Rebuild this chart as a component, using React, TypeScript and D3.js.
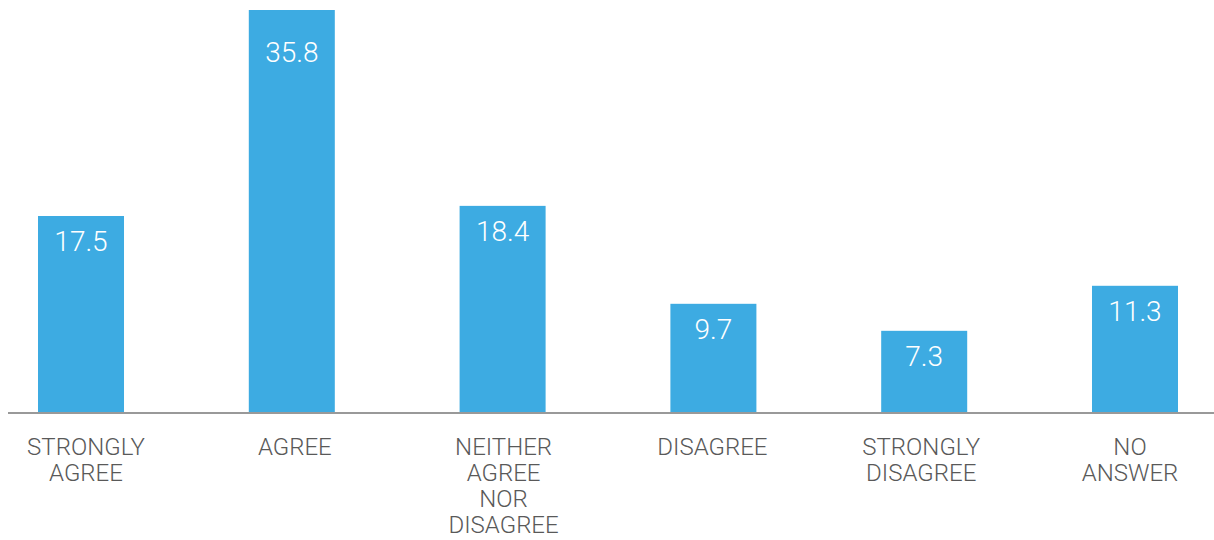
import React from "react";
import * as d3 from "d3";

const categories = ["STRONGLY AGREE", "AGREE", "NEITHER AGREE NOR DISAGREE", "DISAGREE", "STRONGLY DISAGREE", "NO ANSWER"];
const categoryLines = [["STRONGLY", "AGREE"], ["AGREE"], ["NEITHER", "AGREE", "NOR", "DISAGREE"], ["DISAGREE"], ["STRONGLY", "DISAGREE"], ["NO", "ANSWER"]];
const values = [17.5, 35.8, 18.4, 9.7, 7.3, 11.3];

const W = 1214;
const H = 540;
const baseY = 413;
const topY = 10;

export default function App() {
  const x = d3.scaleBand<string>().domain(categories).range([38, 1178]).paddingInner(0.592).paddingOuter(0);
  const xl = d3.scalePoint<string>().domain(categories).range([86, 1130]);
  const y = d3.scaleLinear().domain([0, d3.max(values) as number]).range([baseY, topY]);
  const labelMinY = 62;
  return (
    <svg width={W} height={H} style={{ position: "absolute", left: 0, top: 0 }}>
      <rect width={W} height={H} fill="#ffffff" />
      {categories.map((c, i) => (
        <g key={c}>
          <rect x={x(c)} y={y(values[i])} width={x.bandwidth()} height={baseY - y(values[i])} fill="#3DABE2" />
          <text
            x={(x(c) as number) + x.bandwidth() / 2}
            y={Math.max(y(values[i]) + 35, i === 1 ? labelMinY : 0)}
            textAnchor="middle"
            fill="#ffffff"
            fontFamily="Roboto"
            fontWeight={300}
            fontSize={28}
          >
            {values[i].toFixed(1)}
          </text>
          <text
            x={xl(c) as number}
            y={455}
            textAnchor="middle"
            fill="#595959"
            fontFamily="Roboto"
            fontWeight={300}
            fontSize={24}
          >
            {categoryLines[i].map((l, j) => (
              <tspan key={j} x={xl(c) as number} dy={j === 0 ? 0 : 26}>
                {l}
              </tspan>
            ))}
          </text>
        </g>
      ))}
      <line x1={8} x2={W} y1={baseY} y2={baseY} stroke="#999999" strokeWidth={2} />
    </svg>
  );
}
